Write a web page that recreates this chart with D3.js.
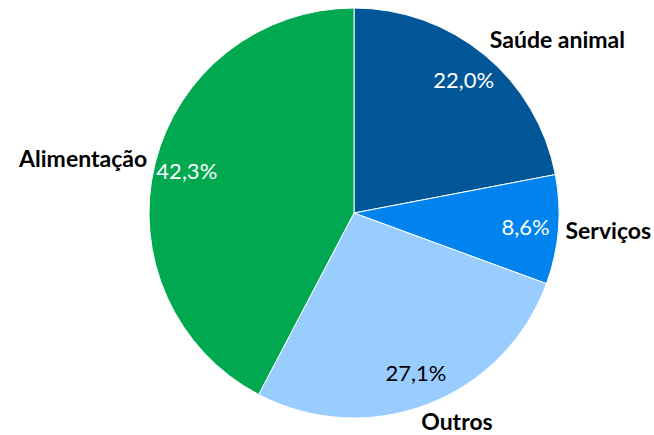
<!DOCTYPE html>
<html>
<head>
<meta charset="utf-8">
<script src="https://cdn.jsdelivr.net/npm/d3@7"></script>
<style>
  body { margin: 0; background: #fff; }
  text { font-family: Lato, Carlito, Calibri, "Open Sans", sans-serif; }
</style>
</head>
<body>
<svg id="chart"></svg>
<script>
const width = 654
const height = 435

const categories = ["Saúde animal", "Serviços", "Outros", "Alimentação"]
const values = [22.0, 8.6, 27.1, 42.3]
const colors = ["#005697", "#0083EE", "#99CCFF", "#00A84F"]
const pctColors = ["#fff", "#fff", "#000", "#fff"]

const cx = 354
const cy = 213
const radius = 205

const svg = d3.select("#chart")
  .attr("width", width)
  .attr("height", height)

const g = svg.append("g").attr("transform", `translate(${cx},${cy})`)

const data = categories.map((c, i) => ({ name: c, value: values[i], i: i }))

const pie = d3.pie().sort(null).value(d => d.value)
const arcs = pie(data)

const arc = d3.arc().innerRadius(0).outerRadius(radius)
const pctArc = d3.arc().innerRadius(radius * 0.84).outerRadius(radius * 0.84)

g.selectAll("path.slice")
  .data(arcs)
  .join("path")
  .attr("class", "slice")
  .attr("d", arc)
  .attr("fill", d => colors[d.data.i])
  .attr("stroke", "#fff")
  .attr("stroke-width", 1)

// percentages inside
g.selectAll("text.pct")
  .data(arcs)
  .join("text")
  .attr("class", "pct")
  .attr("transform", d => `translate(${pctArc.centroid(d)})`)
  .attr("text-anchor", "middle")
  .attr("dy", "0.35em")
  .attr("font-size", 22)
  .attr("fill", d => pctColors[d.data.i])
  .text(d => d.data.value.toFixed(1).replace(".", ",") + "%")

// category names outside
g.selectAll("text.name")
  .data(arcs)
  .join("text")
  .attr("class", "name")
  .each(function (d) {
    const a = (d.startAngle + d.endAngle) / 2
    const r = radius + 8
    const x = Math.sin(a) * r - 10 * Math.max(0, -Math.cos(a))
    const y = -Math.cos(a) * r - 11 * Math.cos(a)
    d3.select(this)
      .attr("x", x)
      .attr("y", y)
      .attr("text-anchor", Math.sin(a) >= 0 ? "start" : "end")
  })
  .attr("dy", "0.35em")
  .attr("font-size", 23)
  .attr("font-weight", "bold")
  .attr("fill", "#000")
  .text(d => d.data.name)
</script>
</body>
</html>
